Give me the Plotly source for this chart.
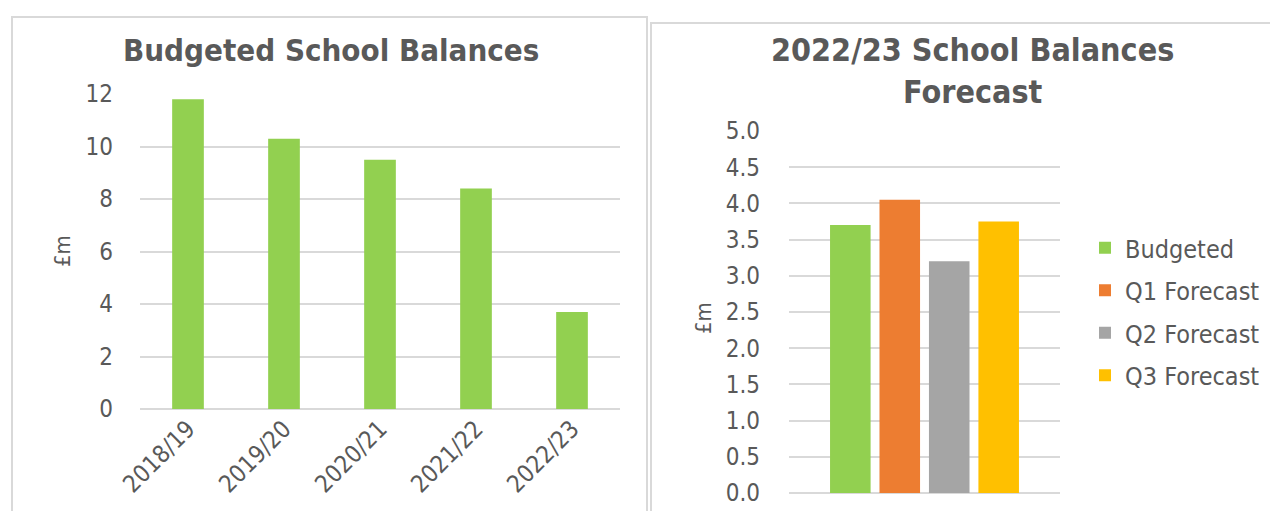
import plotly.graph_objects as go

# left chart data
years = ["2018/19", "2019/20", "2020/21", "2021/22", "2022/23"]
budgeted_balances = [11.8, 10.3, 9.5, 8.4, 3.7]

# right chart data
forecast_names = ["Budgeted", "Q1 Forecast", "Q2 Forecast", "Q3 Forecast"]
forecast_values = [3.7, 4.05, 3.2, 3.75]
forecast_colors = ["#92D050", "#ED7D31", "#A5A5A5", "#FFC000"]

W, H = 1278, 511
OFF = 8  # page body margin
text_col = "#595959"
grid_col = "#D9D9D9"
font = "DejaVu Sans Condensed, Liberation Sans, DejaVu Sans"

fig = go.Figure()

fig.add_trace(
    go.Bar(
        x=years,
        y=budgeted_balances,
        marker_color="#92D050",
        width=0.33,
        showlegend=False,
        xaxis="x",
        yaxis="y",
    )
)

for name, val, col in zip(forecast_names, forecast_values, forecast_colors):
    fig.add_trace(
        go.Bar(
            x=[""],
            y=[val],
            name=name,
            marker_color=col,
            legendgroup=name,
            xaxis="x2",
            yaxis="y2",
        )
    )


def px(x):
    return (x - OFF) / W


def py(y):
    return 1 - (y - OFF) / H


axis_common = dict(
    showline=False,
    ticks="",
    automargin=False,
    tickfont=dict(size=24, color=text_col, family=font),
    fixedrange=True,
)

fig.update_layout(
    template="none",
    width=W,
    height=H,
    margin=dict(l=0, r=0, t=0, b=0, pad=0, autoexpand=False),
    paper_bgcolor="white",
    plot_bgcolor="white",
    font=dict(family=font, color=text_col),
    barmode="group",
    bargap=0.27,
    bargroupgap=0.18,
    xaxis=dict(
        domain=[px(140), px(620)],
        anchor="y",
        tickangle=-45,
        showgrid=False,
        **axis_common,
    ),
    yaxis=dict(
        domain=[py(409), py(94)],
        anchor="x",
        range=[0, 12],
        dtick=2,
        gridcolor=grid_col,
        gridwidth=1.5,
        zeroline=True,
        zerolinecolor=grid_col,
        zerolinewidth=1.5,
        ticklabelstandoff=26,
        **axis_common,
    ),
    xaxis2=dict(
        domain=[px(789), px(1060)],
        anchor="y2",
        showgrid=False,
        showticklabels=False,
        **axis_common,
    ),
    yaxis2=dict(
        domain=[py(493), py(131)],
        anchor="x2",
        range=[0, 5],
        dtick=0.5,
        tickformat=".1f",
        gridcolor=grid_col,
        gridwidth=1.5,
        zeroline=True,
        zerolinecolor=grid_col,
        zerolinewidth=1.5,
        ticklabelstandoff=28,
        **axis_common,
    ),
    legend=dict(
        x=px(1085),
        y=py(225),
        xanchor="left",
        yanchor="top",
        bgcolor="rgba(0,0,0,0)",
        font=dict(size=25, color=text_col, family=font),
        traceorder="grouped",
        tracegroupgap=7,
        itemwidth=30,
    ),
    shapes=[
        dict(type="rect", xref="paper", yref="paper",
             x0=px(12), x1=px(647), y0=-0.05, y1=py(17),
             line=dict(color=grid_col, width=2)),
        dict(type="rect", xref="paper", yref="paper",
             x0=px(651), x1=1.05, y0=-0.05, y1=py(23),
             line=dict(color=grid_col, width=2)),
    ],
    annotations=[
        dict(text="<b>Budgeted School Balances</b>", xref="paper", yref="paper",
             x=px(331), y=py(50), xanchor="center", yanchor="middle", showarrow=False,
             font=dict(size=31, color=text_col, family=font)),
        dict(text="<b>2022/23 School Balances<br>Forecast</b>", xref="paper", yref="paper",
             x=px(972), y=py(71), xanchor="center", yanchor="middle", showarrow=False,
             font=dict(size=32, color=text_col, family=font)),
        dict(text="£m", xref="paper", yref="paper", x=px(62), y=py(251),
             xanchor="center", yanchor="middle",
             showarrow=False, textangle=-90,
             font=dict(size=22, color=text_col, family=font)),
        dict(text="£m", xref="paper", yref="paper", x=px(703), y=py(318),
             xanchor="center", yanchor="middle",
             showarrow=False, textangle=-90,
             font=dict(size=22, color=text_col, family=font)),
    ],
)

fig.write_html("out.html")
